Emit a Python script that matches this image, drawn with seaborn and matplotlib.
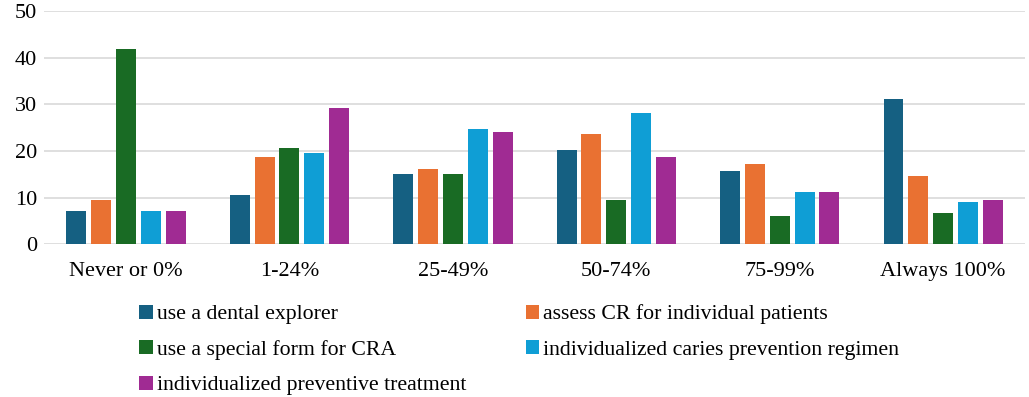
import pandas as pd
import matplotlib.pyplot as plt
import seaborn as sns

categories = ['Never or 0%', '1-24%', '25-49%', '50-74%', '75-99%', 'Always 100%']
series = ['use a dental explorer', 'assess CR for individual patients',
          'use a special form for CRA', 'individualized caries prevention regimen',
          'individualized preventive treatment']
explorer = [7.1, 10.6, 15.1, 20.1, 15.6, 31.2]
assess_cr = [9.5, 18.6, 16.1, 23.6, 17.1, 14.6]
special_form = [41.8, 20.6, 15.1, 9.5, 6.0, 6.6]
caries_regimen = [7.1, 19.6, 24.6, 28.2, 11.1, 9.1]
preventive = [7.1, 29.3, 24.1, 18.6, 11.1, 9.5]
colors = ['#156082', '#E97132', '#196B24', '#0F9ED5', '#A02B93']

values = [explorer, assess_cr, special_form, caries_regimen, preventive]
rows = []
for name, vals in zip(series, values):
    for cat, v in zip(categories, vals):
        rows.append({'category': cat, 'series': name, 'value': v})
df = pd.DataFrame(rows)

plt.rcParams['font.family'] = ['Liberation Serif', 'DejaVu Serif']

fig, ax = plt.subplots(figsize=(10.29, 3.97), dpi=100)
fig.subplots_adjust(left=0.043, right=0.996, top=0.972, bottom=0.385)

sns.barplot(data=df, x='category', y='value', hue='series', order=categories,
            hue_order=series, palette=colors, width=0.76, saturation=1,
            linewidth=0, ax=ax, zorder=3)

# leave a small white gap between neighbouring bars
for p in ax.patches:
    w = p.get_width()
    if w > 0:
        p.set_x(p.get_x() + (w - 0.122) / 2)
        p.set_width(0.122)

ax.set_ylim(0, 50)
ax.set_yticks(range(0, 51, 10))
ax.grid(axis='y', color='#d9d9d9', linewidth=1.2, zorder=0)
ax.set_axisbelow(True)
for s in ax.spines.values():
    s.set_visible(False)
ax.tick_params(axis='both', length=0, labelsize=16, colors='black')
ax.tick_params(axis='x', pad=13)
ax.tick_params(axis='y', pad=5)
ax.set_xlabel('')
ax.set_ylabel('')

handles, labels = ax.get_legend_handles_labels()
ax.get_legend().remove()
order = [0, 2, 4, 1, 3]
fig.legend([handles[i] for i in order], [labels[i] for i in order],
           loc='upper left', bbox_to_anchor=(0.127, 0.255),
           ncol=2, frameon=False, fontsize=15.7, handlelength=0.62,
           handleheight=0.62, handletextpad=0.2, columnspacing=2.7,
           labelspacing=0.72, borderaxespad=0)

fig.savefig('out.png', dpi=100)
